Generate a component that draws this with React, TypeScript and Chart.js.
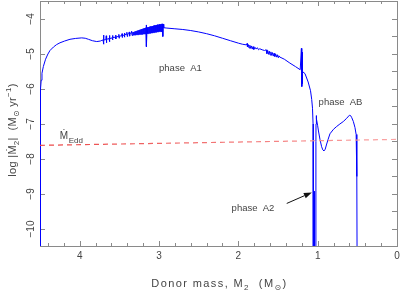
import React, { useEffect, useRef } from 'react';
import { Chart, registerables } from 'chart.js';

Chart.register(...registerables);

// ---- data ----
const massValues: number[] = [
  4.496, 4.496, 4.494, 4.491, 4.485, 4.475, 4.458, 4.43, 4.40, 4.374, 4.33, 4.29, 4.248, 4.19, 4.122, 4.05,
  3.974, 3.93, 3.89, 3.84, 3.785, 3.74, 3.72,
  3.705, 3.700, 3.697, 3.694, 3.670, 3.665, 3.662, 3.659, 3.630, 3.625, 3.622, 3.619, 3.590, 3.586, 3.583, 3.580,
  3.550, 3.546, 3.543, 3.540, 3.510, 3.506, 3.503, 3.500, 3.470, 3.466, 3.463, 3.460, 3.440, 3.436, 3.433, 3.430,
  3.410, 3.405, 3.400, 3.395, 3.380, 3.375, 3.370, 3.365, 3.350, 3.345, 3.340,
  3.330, 3.324, 3.318, 3.311, 3.305, 3.299, 3.293, 3.286, 3.280, 3.274, 3.268, 3.261, 3.255, 3.249, 3.243, 3.236,
  3.230, 3.224, 3.218, 3.211, 3.205, 3.199, 3.193, 3.186, 3.180, 3.174, 3.168, 3.163, 3.160, 3.158,
  3.150, 3.146, 3.143, 3.136, 3.130, 3.124, 3.118, 3.111, 3.105, 3.099, 3.093, 3.086, 3.080, 3.074, 3.068, 3.061,
  3.055, 3.049, 3.043, 3.036, 3.030, 3.024, 3.018, 3.011, 3.005, 2.999, 2.993, 2.986, 2.980, 2.974, 2.968, 2.963,
  2.958, 2.952, 2.946, 2.94,
  2.90, 2.80, 2.70, 2.60, 2.50, 2.40, 2.30, 2.20, 2.10, 2.00, 1.95,
  1.90, 1.89, 1.885, 1.875, 1.865, 1.855, 1.845, 1.835, 1.825, 1.815, 1.805, 1.79, 1.775, 1.76, 1.745, 1.73, 1.70, 1.67,
  1.650, 1.640, 1.630, 1.620, 1.610, 1.600, 1.590, 1.580, 1.570, 1.560, 1.550, 1.540, 1.530, 1.520, 1.510, 1.500, 1.490, 1.475,
  1.42, 1.35, 1.28, 1.22, 1.205, 1.200, 1.197, 1.194, 1.19,
  1.16, 1.12, 1.09, 1.075, 1.065, 1.058, 1.055,
  1.045, 1.045, 1.040, 1.037, 1.036, 1.023,
  1.022, 1.021, 1.019, 1.017, 1.012, 1.00, 0.99, 0.97, 0.95, 0.935, 0.92, 0.905, 0.89, 0.87, 0.845, 0.80, 0.76,
  0.72, 0.677, 0.64, 0.62, 0.60, 0.585, 0.57, 0.55, 0.53, 0.515, 0.508, 0.505, 0.503,
];
const logMdotValues: number[] = [
  -11, -7.8, -6.8, -6.0, -5.75, -5.55, -5.36, -5.15, -5.00, -4.90, -4.80, -4.73, -4.68, -4.63, -4.58, -4.555,
  -4.54, -4.55, -4.58, -4.62, -4.645, -4.63, -4.61,
  -4.60, -4.46, -4.72, -4.60, -4.59, -4.48, -4.68, -4.58, -4.56, -4.47, -4.65, -4.56, -4.54, -4.47, -4.60, -4.53,
  -4.52, -4.46, -4.57, -4.51, -4.50, -4.44, -4.55, -4.49, -4.48, -4.42, -4.53, -4.47, -4.46, -4.40, -4.52, -4.45,
  -4.44, -4.38, -4.50, -4.43, -4.42, -4.37, -4.49, -4.41, -4.40, -4.35, -4.47,
  -4.38, -4.46, -4.37, -4.46, -4.36, -4.46, -4.35, -4.45, -4.34, -4.45, -4.33, -4.45, -4.32, -4.44, -4.31, -4.44,
  -4.30, -4.44, -4.29, -4.44, -4.28, -4.43, -4.27, -4.43, -4.26, -4.43, -4.25, -4.42, -4.17, -4.79,
  -4.25, -4.42, -4.24, -4.42, -4.23, -4.41, -4.22, -4.41, -4.21, -4.40, -4.21, -4.40, -4.20, -4.39, -4.19, -4.39,
  -4.18, -4.38, -4.18, -4.38, -4.17, -4.37, -4.16, -4.37, -4.16, -4.36, -4.15, -4.36, -4.15, -4.36, -4.14, -4.36,
  -4.14, -4.50, -4.15, -4.25,
  -4.26, -4.28, -4.30, -4.33, -4.37, -4.42, -4.48, -4.55, -4.62, -4.69, -4.72,
  -4.74, -4.70, -4.80, -4.73, -4.83, -4.75, -4.84, -4.77, -4.86, -4.79, -4.87, -4.81, -4.86, -4.82, -4.88, -4.85, -4.88, -4.90,
  -4.88, -4.99, -4.90, -5.01, -4.92, -5.03, -4.94, -5.04, -4.96, -5.06, -4.98, -5.07, -5.00, -5.09, -5.02, -5.10, -5.05, -5.09,
  -5.15, -5.26, -5.36, -5.45, -4.84, -5.93, -4.95, -5.85, -5.50,
  -5.56, -5.80, -6.05, -6.30, -6.55, -7.0, -11,
  -11, -8.97, -8.92, -8.97, -11, -11,
  -7.5, -7.0, -6.85, -6.76, -6.85, -7.05, -7.2, -7.45, -7.65, -7.74, -7.77, -7.72, -7.6, -7.45, -7.28, -7.15, -7.07,
  -7.0, -6.93, -6.85, -6.80, -6.75, -6.76, -6.82, -6.93, -7.1, -7.3, -7.6, -8.5, -11,
];
const eddMass: number[] = [4.5, 0];
const eddLogMdot: number[] = [-7.61, -7.44];

const xMajorTicks: number[] = [4, 3, 2, 1, 0];
const xTickLabels: string[] = ['4', '3', '2', '1', '0'];
const yMajorTicks: number[] = [-4, -5, -6, -7, -8, -9, -10];
const yTickLabels: string[] = ['−4', '−5', '−6', '−7', '−8', '−9', '−10'];

const X_MIN = 0;
const X_MAX = 4.5;
const Y_MIN = -10.486;
const Y_MAX = -3.486;

// annotation anchors in data coordinates
const phaseLabels = [
  { text: 'phase  A1', x: 2.73, y: -5.41 },
  { text: 'phase  AB', x: 0.712, y: -6.39 },
  { text: 'phase  A2', x: 1.815, y: -9.40 },
];
const eddLabelPos = { x: 4.25, y: -7.43 };
const arrowTail = { x: 1.39, y: -9.27 };
const arrowHead = { x: 1.073, y: -8.955 };

const FONT = '"Liberation Sans", "DejaVu Sans", Arial, sans-serif';
const TEXT_COLOR = '#444';
const AXIS_COLOR = '#8a8a8a';

type Seg = { t: string; size: number; dy: number };

function richWidth(ctx: CanvasRenderingContext2D, segs: Seg[], spacing: number) {
  let w = 0;
  for (const s of segs) {
    ctx.font = `${s.size}px ${FONT}`;
    (ctx as any).letterSpacing = `${spacing}px`;
    w += ctx.measureText(s.t).width;
  }
  return w;
}

function drawRich(ctx: CanvasRenderingContext2D, segs: Seg[], x: number, y: number, spacing: number) {
  const w = richWidth(ctx, segs, spacing);
  let cx = x - w / 2;
  ctx.textAlign = 'left';
  ctx.textBaseline = 'alphabetic';
  for (const s of segs) {
    ctx.font = `${s.size}px ${FONT}`;
    (ctx as any).letterSpacing = `${spacing}px`;
    ctx.fillText(s.t, cx, y + s.dy);
    cx += ctx.measureText(s.t).width;
  }
  (ctx as any).letterSpacing = '0px';
}

const framePlugin = {
  id: 'frameTicks',
  beforeDatasetsDraw(chart: any) {
    const { ctx, chartArea: a, scales } = chart;
    const xs = scales.x;
    const ys = scales.y;
    ctx.save();
    ctx.strokeStyle = AXIS_COLOR;
    ctx.lineWidth = 1;
    ctx.strokeRect(a.left + 0.5, a.top + 0.5, a.right - a.left, a.bottom - a.top);
    ctx.beginPath();
    for (let i = 0; i <= 22; i++) {
      const v = i * 0.2;
      const px = Math.round(xs.getPixelForValue(v)) + 0.5;
      const major = Math.abs(v - Math.round(v)) < 1e-6;
      const len = major ? 5 : 3;
      ctx.moveTo(px, a.bottom);
      ctx.lineTo(px, a.bottom - len);
      ctx.moveTo(px, a.top);
      ctx.lineTo(px, a.top + len);
    }
    for (const v of yMajorTicks) {
      const py = Math.round(ys.getPixelForValue(v)) + 0.5;
      ctx.moveTo(a.left, py);
      ctx.lineTo(a.left + 5, py);
    }
    for (let v = -4; v >= -10.4; v -= 0.5) {
      const py = Math.round(ys.getPixelForValue(v)) + 0.5;
      ctx.moveTo(a.right, py);
      ctx.lineTo(a.right - 5, py);
    }
    ctx.stroke();
    ctx.restore();
  },
  afterDraw(chart: any) {
    const { ctx, chartArea: a, scales } = chart;
    const xs = scales.x;
    const ys = scales.y;
    ctx.save();
    ctx.fillStyle = TEXT_COLOR;
    ctx.font = `10px ${FONT}`;
    ctx.textAlign = 'center';
    ctx.textBaseline = 'alphabetic';
    xMajorTicks.forEach((v, i) => {
      ctx.fillText(xTickLabels[i], xs.getPixelForValue(v), 258.5);
    });
    yMajorTicks.forEach((v, i) => {
      ctx.save();
      ctx.translate(34, ys.getPixelForValue(v));
      ctx.rotate(-Math.PI / 2);
      ctx.textAlign = 'center';
      ctx.fillText(yTickLabels[i], 0, 0);
      ctx.restore();
    });
    drawRich(
      ctx,
      [
        { t: 'Donor mass, M', size: 11, dy: 0 },
        { t: '2', size: 8, dy: 3 },
        { t: '  (M', size: 11, dy: 0 },
        { t: '⊙', size: 8, dy: 3 },
        { t: ')', size: 11, dy: 0 },
      ],
      (a.left + a.right) / 2 + 1,
      286.5,
      1.4
    );
    ctx.save();
    ctx.translate(15.5, 130);
    ctx.rotate(-Math.PI / 2);
    drawRich(
      ctx,
      [
        { t: 'log |Ṁ', size: 11, dy: 0 },
        { t: '2', size: 8, dy: 3 },
        { t: '|  (M', size: 11, dy: 0 },
        { t: '⊙', size: 8, dy: 3 },
        { t: ' yr', size: 11, dy: 0 },
        { t: '−1', size: 8, dy: -5 },
        { t: ')', size: 11, dy: 0 },
      ],
      0,
      0,
      0.3
    );
    ctx.restore();
    ctx.font = `9.5px ${FONT}`;
    ctx.textAlign = 'center';
    ctx.textBaseline = 'middle';
    for (const p of phaseLabels) {
      ctx.fillText(p.text, xs.getPixelForValue(p.x), ys.getPixelForValue(p.y));
    }
    ctx.textAlign = 'left';
    ctx.textBaseline = 'alphabetic';
    const ex = xs.getPixelForValue(eddLabelPos.x);
    const ey = ys.getPixelForValue(eddLabelPos.y);
    ctx.font = `10px ${FONT}`;
    ctx.fillText('Ṁ', ex, ey);
    const mw = ctx.measureText('Ṁ').width;
    ctx.font = `8px ${FONT}`;
    ctx.fillText('Edd', ex + mw + 0.5, ey + 4);
    const tx = xs.getPixelForValue(arrowTail.x);
    const ty = ys.getPixelForValue(arrowTail.y);
    const hx = xs.getPixelForValue(arrowHead.x);
    const hy = ys.getPixelForValue(arrowHead.y);
    const ang = Math.atan2(hy - ty, hx - tx);
    const hl = 8;
    const hw = 3;
    const bx = hx - hl * Math.cos(ang);
    const by = hy - hl * Math.sin(ang);
    ctx.strokeStyle = '#111';
    ctx.fillStyle = '#111';
    ctx.lineWidth = 1;
    ctx.beginPath();
    ctx.moveTo(tx, ty);
    ctx.lineTo(bx, by);
    ctx.stroke();
    ctx.beginPath();
    ctx.moveTo(hx, hy);
    ctx.lineTo(bx + hw * Math.sin(ang), by - hw * Math.cos(ang));
    ctx.lineTo(bx - hw * Math.sin(ang), by + hw * Math.cos(ang));
    ctx.closePath();
    ctx.fill();
    ctx.restore();
  },
};

export default function App() {
  const canvasRef = useRef<HTMLCanvasElement | null>(null);

  useEffect(() => {
    const canvas = canvasRef.current;
    if (!canvas) return;
    const mainData = massValues.map((m, i) => ({ x: m, y: logMdotValues[i] }));
    const eddData = eddMass.map((m, i) => ({ x: m, y: eddLogMdot[i] }));

    const chart = new Chart(canvas, {
      type: 'scatter',
      data: {
        datasets: [
          {
            label: 'Eddington rate',
            data: eddData,
            showLine: true,
            pointRadius: 0,
            borderWidth: 1.2,
            borderDash: [5, 4],
            borderColor: (context: any) => {
              const c = context.chart;
              const area = c.chartArea;
              if (!area) return '#f06a6a';
              const g = c.ctx.createLinearGradient(area.left, 0, area.right, 0);
              g.addColorStop(0, 'rgba(235, 70, 70, 1)');
              g.addColorStop(1, 'rgba(250, 165, 165, 1)');
              return g;
            },
          },
          {
            label: 'mass-transfer rate',
            data: mainData,
            showLine: true,
            pointRadius: 0,
            borderWidth: 1,
            borderColor: '#0000ff',
            tension: 0,
          },
        ],
      },
      options: {
        animation: false,
        responsive: true,
        maintainAspectRatio: false,
        devicePixelRatio: 1,
        layout: { padding: { left: 40, right: 3, top: 1, bottom: 45 } },
        plugins: {
          legend: { display: false },
          tooltip: { enabled: false },
        },
        scales: {
          x: { type: 'linear', reverse: true, min: X_MIN, max: X_MAX, display: false },
          y: { type: 'linear', min: Y_MIN, max: Y_MAX, display: false },
        },
      },
      plugins: [framePlugin],
    } as any);

    return () => chart.destroy();
  }, []);

  return (
    <div style={{ position: 'fixed', left: 0, top: 0, width: 400, height: 291, background: '#fff' }}>
      <canvas ref={canvasRef} />
    </div>
  );
}
